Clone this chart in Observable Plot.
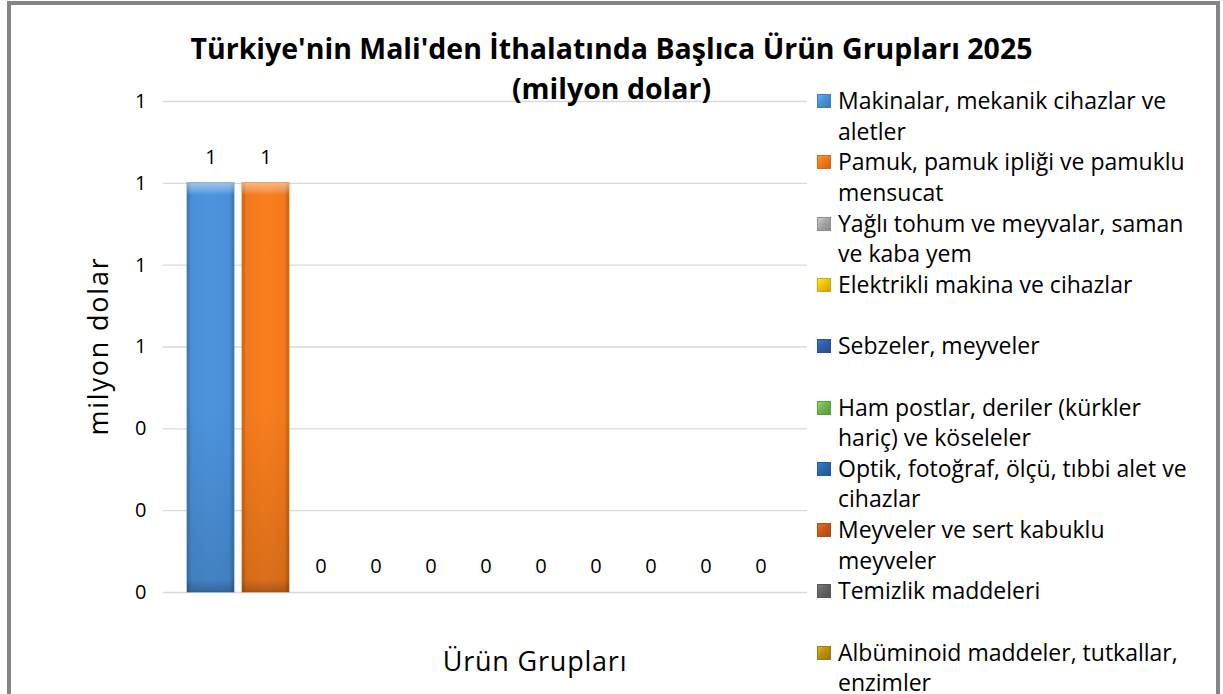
<!DOCTYPE html>
<html>
<head>
<meta charset="utf-8">
<script src="https://cdn.jsdelivr.net/npm/d3@7"></script>
<script src="https://cdn.jsdelivr.net/npm/@observablehq/plot@0.6"></script>
<style>
  html, body { margin: 0; padding: 0; background: #fff; }
  body { width: 1223px; height: 694px; overflow: hidden; position: relative; font-family: "Open Sans", Lato, sans-serif; color: #000; }
  #frame { position: absolute; left: 7px; top: 1px; width: 1205px; height: 760px; border: 4px solid #858585; border-bottom: none; }
  #chart { position: absolute; left: 0; top: 0; }
  .title { position: absolute; left: 0; width: 1223px; text-align: center; font-weight: bold; font-size: 28.5px; white-space: nowrap; line-height: 40px; }
  #ylabel { position: absolute; left: 97px; top: 346px; transform: translate(-50%, -50%) rotate(-90deg); font-size: 27px; letter-spacing: 1.8px; white-space: nowrap; }
  #xlabel { position: absolute; left: 535px; top: 660px; transform: translate(-50%, -50%); font-size: 27px; letter-spacing: 0.8px; white-space: nowrap; }
  #legend { position: absolute; left: 817px; top: 0; }
  .item { position: absolute; left: 0; white-space: nowrap; font-size: 23px; line-height: 30.6px; }
  .sw { position: absolute; left: 0; top: 9px; width: 14px; height: 14px; box-sizing: border-box; }
  .txt { position: absolute; left: 21px; top: 0; }
</style>
</head>
<body>
<div id="frame"></div>
<div id="chart"></div>
<div class="title" style="top:28px">Türkiye'nin Mali'den İthalatında Başlıca Ürün Grupları 2025</div>
<div class="title" style="top:68px">(milyon dolar)</div>
<div id="ylabel">milyon dolar</div>
<div id="xlabel">Ürün Grupları</div>
<div id="legend"></div>
<script>
// ---- data ----
const categories = [
  "Makinalar, mekanik cihazlar ve aletler",
  "Pamuk, pamuk ipliği ve pamuklu mensucat",
  "Yağlı tohum ve meyvalar, saman ve kaba yem",
  "Elektrikli makina ve cihazlar",
  "Sebzeler, meyveler",
  "Ham postlar, deriler (kürkler hariç) ve köseleler",
  "Optik, fotoğraf, ölçü, tıbbi alet ve cihazlar",
  "Meyveler ve sert kabuklu meyveler",
  "Temizlik maddeleri",
  "Albüminoid maddeler, tutkallar, enzimler",
  "Diğer"
];
const legendLines = [
  ["Makinalar, mekanik cihazlar ve", "aletler"],
  ["Pamuk, pamuk ipliği ve pamuklu", "mensucat"],
  ["Yağlı tohum ve meyvalar, saman", "ve kaba yem"],
  ["Elektrikli makina ve cihazlar"],
  ["Sebzeler, meyveler"],
  ["Ham postlar, deriler (kürkler", "hariç) ve köseleler"],
  ["Optik, fotoğraf, ölçü, tıbbi alet ve", "cihazlar"],
  ["Meyveler ve sert kabuklu", "meyveler"],
  ["Temizlik maddeleri"],
  ["Albüminoid maddeler, tutkallar,", "enzimler"]
];
const values = [1.0, 1.0, 0, 0, 0, 0, 0, 0, 0, 0, 0];
const colors = ["#4a90d8", "#f27a1c", "#a5a5a5", "#f2c10a", "#2f5ea8", "#6cb64a", "#2a68ae", "#c8561a", "#636363", "#b8900e", "#4a90d8"];
const yTicks = [0, 0.2, 0.4, 0.6, 0.8, 1.0, 1.2];

const data = categories.map((c, i) => ({cat: c, value: values[i], i}));

function shade(c, k) { return d3.color(c).darker(k).formatHex(); }
function tint(c, k) { return d3.color(c).brighter(k).formatHex(); }

const defsMark = () => {
  const defs = d3.create("svg:defs");
  colors.forEach((c, i) => {
    const g = defs.append("linearGradient").attr("id", "gh" + i).attr("x1", 0).attr("x2", 1).attr("y1", 0).attr("y2", 0);
    [[0, shade(c, 0.6)], [0.1, c], [0.5, tint(c, 0.08)], [0.9, c], [1, shade(c, 0.7)]]
      .forEach(([o, col]) => g.append("stop").attr("offset", o).attr("stop-color", col));
    const v = defs.append("linearGradient").attr("id", "gv" + i).attr("x1", 0).attr("x2", 0).attr("y1", 0).attr("y2", 1);
    [[0, "rgba(255,255,255,0.45)"], [0.015, "rgba(255,255,255,0.25)"], [0.03, "rgba(255,255,255,0)"], [0.55, "rgba(0,0,0,0)"], [0.97, "rgba(0,0,0,0.12)"], [1, "rgba(0,0,0,0.3)"]]
      .forEach(([o, col]) => v.append("stop").attr("offset", o).attr("stop-color", col));
  });
  return defs.node();
};

const chart = Plot.plot({
  width: 1223,
  height: 694,
  marginLeft: 163,
  marginRight: 416,
  marginTop: 101,
  marginBottom: 102,
  style: {fontFamily: "'Open Sans', Lato, sans-serif", background: "transparent", color: "#000"},
  x: {domain: categories, paddingInner: 0.15, paddingOuter: 0.385, axis: null},
  y: {domain: [0, 1.2], axis: null},
  color: {type: "identity"},
  marks: [
    defsMark,
    Plot.ruleY(yTicks, {stroke: "#d9d9d9", strokeWidth: 1.3}),
    Plot.axisY(yTicks, {tickSize: 0, tickPadding: 17, fontSize: 20, tickFormat: d => String(Math.round(d)), label: null}),
    Plot.barY(data, {x: "cat", y: "value", fill: d => `url(#gh${d.i})`, stroke: d => shade(colors[d.i], 0.3), strokeWidth: 0.8}),
    Plot.barY(data, {x: "cat", y: "value", fill: d => `url(#gv${d.i})`}),
    Plot.text(data, {x: "cat", y: "value", text: d => String(Math.round(d.value)), dy: -26, fontSize: 20, lineAnchor: "middle", fill: "#000"})
  ]
});
document.getElementById("chart").appendChild(chart);

// legend
const legend = document.getElementById("legend");
legendLines.forEach((lines, i) => {
  const item = document.createElement("div");
  item.className = "item";
  item.style.top = (101 - 16 + i * 61.3) + "px";
  const sw = document.createElement("div");
  sw.className = "sw";
  const c = colors[i];
  sw.style.background = `linear-gradient(135deg, ${tint(c, 0.6)} 0%, ${c} 45%, ${shade(c, 0.5)} 100%)`;
  sw.style.border = `1px solid ${shade(c, 0.4)}`;
  const t = document.createElement("div");
  t.className = "txt";
  t.innerHTML = lines.join("<br>");
  item.appendChild(sw);
  item.appendChild(t);
  legend.appendChild(item);
});
</script>
</body>
</html>
